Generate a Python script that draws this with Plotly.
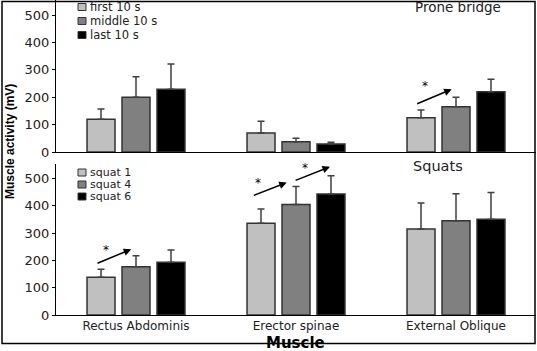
import plotly.graph_objects as go
from plotly.subplots import make_subplots

categories = ["Rectus Abdominis", "Erector spinae", "External Oblique"]

prone_names = ["first 10 s", "middle 10 s", "last 10 s"]
prone_means = [[120, 69, 125], [200, 37, 165], [229, 29, 220]]
prone_errs = [[37, 43, 28], [75, 13, 35], [92, 7, 46]]

squat_names = ["squat 1", "squat 4", "squat 6"]
squat_means = [[138, 336, 315], [177, 405, 345], [193, 443, 351]]
squat_errs = [[30, 52, 95], [40, 66, 99], [45, 67, 98]]

colors = ["#c0c0c0", "#808080", "#000000"]

# significance arrows: (tail_x, tail_y, head_x, head_y, star_x, star_y)
prone_arrows = [(1.748, 174, 1.973, 229, 1.806, 240)]
squat_arrows = [(-0.25, 187, -0.03, 241, -0.19, 238),
                (0.727, 436, 0.942, 485, 0.764, 484),
                (0.988, 491, 1.2125, 543, 1.056, 540)]

W, H = 537, 351
ML, MR, MT, MB = 56, 1, 0, 36
PW, PH = W - ML - MR, H - MT - MB


def px(x):
    return (x - ML) / PW


def py(y):
    return (H - MB - y) / PH


fig = make_subplots(rows=2, cols=1)

for i in range(3):
    fig.add_trace(go.Bar(
        x=categories, y=prone_means[i], name=prone_names[i],
        marker=dict(color=colors[i], line=dict(color="#333333", width=1.5)),
        error_y=dict(type="data", array=prone_errs[i], arrayminus=[0, 0, 0],
                     symmetric=False, color="#404040", thickness=1.5, width=3.5),
        showlegend=False), row=1, col=1)
for i in range(3):
    fig.add_trace(go.Bar(
        x=categories, y=squat_means[i], name=squat_names[i],
        marker=dict(color=colors[i], line=dict(color="#333333", width=1.5)),
        error_y=dict(type="data", array=squat_errs[i], arrayminus=[0, 0, 0],
                     symmetric=False, color="#404040", thickness=1.5, width=3.5),
        showlegend=False), row=2, col=1)

tickfont = dict(family="DejaVu Sans", size=13, color="#222")
yax = dict(range=[0, 555], dtick=100, tick0=0, showgrid=False, zeroline=False,
           showline=True, linecolor="black", linewidth=1, ticks="outside",
           ticklen=3, tickcolor="black", tickfont=tickfont)
fig.update_layout(
    width=W, height=H, margin=dict(l=ML, r=MR, t=MT, b=MB),
    plot_bgcolor="white", paper_bgcolor="white",
    barmode="group", bargap=0.344, bargroupgap=0.2,
    xaxis=dict(domain=[0, 1], range=[-0.5, 2.5], showline=True, linecolor="black",
               linewidth=1, showticklabels=False, ticks="", showgrid=False),
    xaxis2=dict(domain=[0, 1], range=[-0.5, 2.5], showline=True, linecolor="black",
                linewidth=1, ticks="", showgrid=False,
                tickfont=dict(family="DejaVu Sans", size=12, color="#222")),
    yaxis=dict(domain=[py(152), 1], **yax),
    yaxis2=dict(domain=[0, py(164)], **{**yax, "range": [0, 553]}),
)

annotations = []
shapes = []

# legends
for names, rows, fs in [(prone_names, [7, 21, 35], 11.5), (squat_names, [172.5, 184.5, 196.5], 11)]:
    for name, c, ry in zip(names, colors, rows):
        shapes.append(dict(type="rect", xref="paper", yref="paper",
                           x0=px(78), x1=px(86), y0=py(ry + 3.5), y1=py(ry - 3.5),
                           fillcolor=c, line=dict(color="#333", width=1)))
        annotations.append(dict(xref="paper", yref="paper", x=px(87.5), y=py(ry),
                                xanchor="left", yanchor="middle", text=name, showarrow=False,
                                font=dict(family="DejaVu Sans", size=fs, color="#222")))

# panel titles
annotations.append(dict(xref="paper", yref="paper", x=px(458), y=py(6.5), text="Prone bridge",
                        showarrow=False, xanchor="center", yanchor="middle",
                        font=dict(family="DejaVu Sans", size=13.5, color="#222")))
annotations.append(dict(xref="paper", yref="paper", x=px(438), y=py(166), text="Squats",
                        showarrow=False, xanchor="center", yanchor="middle",
                        font=dict(family="DejaVu Sans", size=14.5, color="#222")))

# axis titles
annotations.append(dict(xref="paper", yref="paper", x=px(10), y=py(142), text="<b>Muscle activity (mV)</b>",
                        textangle=-90, showarrow=False, xanchor="center", yanchor="middle",
                        font=dict(family="Liberation Sans Narrow, Arial Narrow, Liberation Sans", size=12, color="black")))
annotations.append(dict(xref="paper", yref="paper", x=px(295), y=py(342.5), text="<b>Muscle</b>",
                        showarrow=False, xanchor="center", yanchor="middle",
                        font=dict(family="DejaVu Sans", size=15, color="black")))

# arrows and stars
for arrows, xr, yr in [(prone_arrows, "x", "y"), (squat_arrows, "x2", "y2")]:
    for tx, ty, hx, hy, sx, sy in arrows:
        annotations.append(dict(x=hx, y=hy, ax=tx, ay=ty, xref=xr, yref=yr, axref=xr, ayref=yr,
                                text="", showarrow=True, arrowhead=2, arrowsize=1, arrowwidth=1.5,
                                arrowcolor="black"))
        annotations.append(dict(x=sx, y=sy, xref=xr, yref=yr, text="*", showarrow=False,
                                font=dict(family="DejaVu Sans", size=12, color="black")))

# outer frame
shapes.append(dict(type="rect", xref="paper", yref="paper",
                   x0=px(2), x1=px(535), y0=py(343.5), y1=py(1.5),
                   line=dict(color="black", width=1.5), fillcolor="rgba(0,0,0,0)"))

fig.update_layout(annotations=annotations, shapes=shapes)
fig.write_html("out.html")
